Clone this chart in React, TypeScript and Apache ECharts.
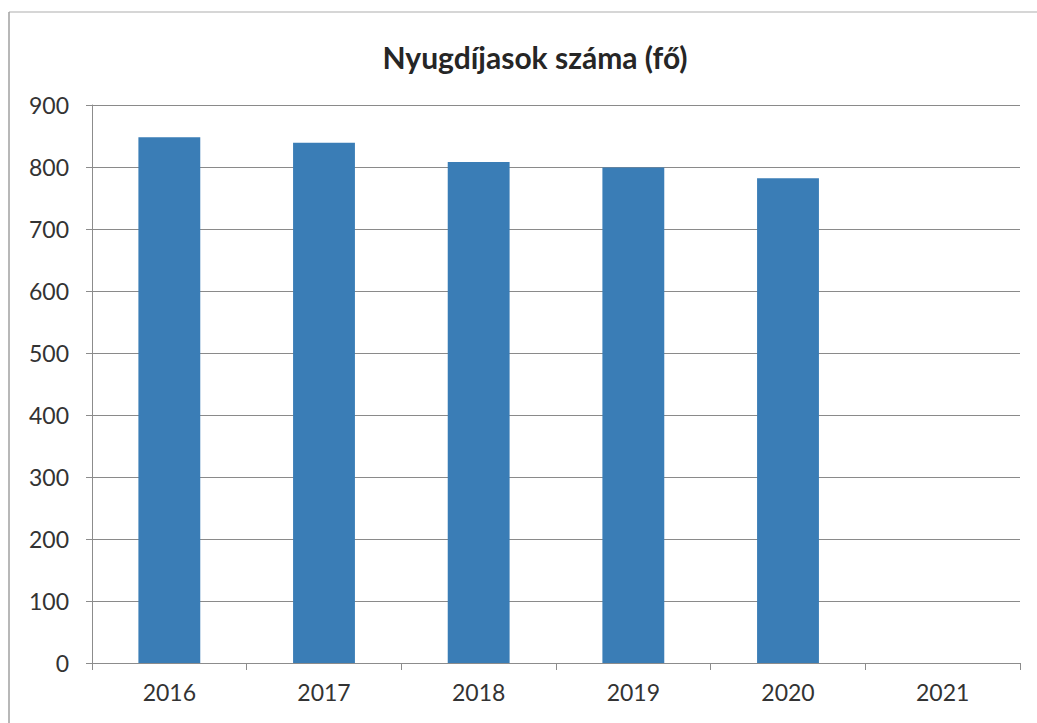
import React, { useEffect, useRef } from "react";
import * as echarts from "echarts";

const categories = ["2016", "2017", "2018", "2019", "2020", "2021"];
const values: (number | null)[] = [848, 839, 808, 799, 782, null];
const yTicks = [0, 100, 200, 300, 400, 500, 600, 700, 800, 900];
const titleText = "Nyugdíjasok száma (fő)";

export default function App() {
  const ref = useRef<HTMLDivElement>(null);
  useEffect(() => {
    if (!ref.current) return;
    const chart = echarts.init(ref.current, undefined, { renderer: "svg" });
    const font = "Lato, 'Open Sans', sans-serif";
    chart.setOption({
      animation: false,
      backgroundColor: "#ffffff",
      title: {
        text: titleText,
        left: 530,
        textAlign: "center",
        top: 37,
        textStyle: { fontFamily: font, fontSize: 30, fontWeight: "bold", color: "#262626" },
      },
      graphic: [
        { type: "line", shape: { x1: 9, y1: 12, x2: 1037, y2: 12 }, style: { stroke: "#c8c8c8", lineWidth: 1.5 } },
        { type: "line", shape: { x1: 9, y1: 12, x2: 9, y2: 723 }, style: { stroke: "#a0a0a0", lineWidth: 1.5 } },
      ],
      grid: { left: 92, right: 17, top: 105, bottom: 60 },
      xAxis: {
        type: "category",
        data: categories,
        axisLine: { show: true, lineStyle: { color: "#8c8c8c", width: 1 } },
        axisTick: { show: true, alignWithLabel: false, length: 7, inside: false, lineStyle: { color: "#8c8c8c" } },
        axisLabel: { fontFamily: font, fontSize: 23, color: "#333333", margin: 17 },
      },
      yAxis: {
        type: "value",
        min: yTicks[0],
        max: yTicks[yTicks.length - 1],
        interval: 100,
        axisLine: { show: true, lineStyle: { color: "#8c8c8c", width: 1 } },
        axisTick: { show: true, length: 6, lineStyle: { color: "#8c8c8c" } },
        splitLine: { show: true, lineStyle: { color: "#8a8a8a", width: 1.2 } },
        axisLabel: { fontFamily: font, fontSize: 23, color: "#333333", margin: 23 },
      },
      series: [
        {
          type: "bar",
          data: values,
          barWidth: "40%",
          itemStyle: { color: "#3a7db6" },
        },
      ],
    });
    return () => chart.dispose();
  }, []);
  return (
    <div
      ref={ref}
      style={{ position: "fixed", left: 0, top: 0, width: 1037, height: 723 }}
    />
  );
}
